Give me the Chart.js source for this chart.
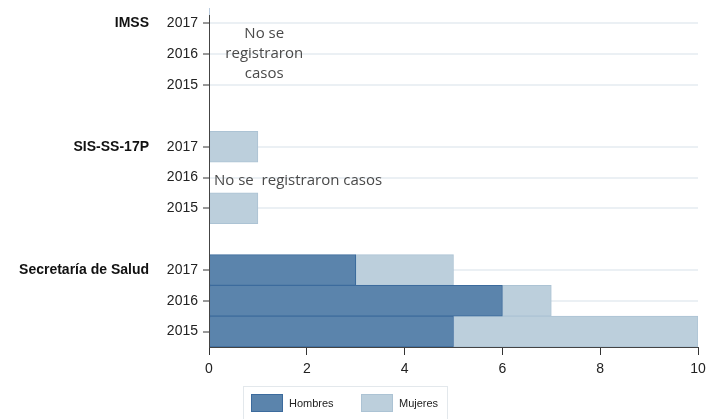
<!DOCTYPE html>
<html>
<head>
<meta charset="utf-8">
<script src="https://cdn.jsdelivr.net/npm/chart.js@4.4.1/dist/chart.umd.min.js"></script>
<style>
  html, body { margin: 0; padding: 0; background: #fff; }
</style>
</head>
<body>
<canvas id="chart" width="719" height="419"></canvas>
<script>
// --- data ---
const groups = ['IMSS', 'SIS-SS-17P', 'Secretaría de Salud'];
const groupRows = [0, 4, 8];   // row index of the 2017 line of each group
const rowLabels = ['2017', '2016', '2015', '', '2017', '2016', '2015', '', '2017', '2016', '2015'];
const hombres = [0, 0, 0, null, 0, 0, 0, null, 3, 6, 5];
const mujeres = [0, 0, 0, null, 1, 0, 1, null, 2, 1, 5];
const xTicks = [0, 2, 4, 6, 8, 10];

const HOMBRES_FILL = '#5b84ac', HOMBRES_LINE = '#3c6b9d';
const MUJERES_FILL = '#bccfdc', MUJERES_LINE = '#acc3d4';

// group names + "no cases" notes + legend box
const notesPlugin = {
    id: 'notes',
    afterDatasetsDraw(chart) {
        const ctx = chart.ctx, x = chart.scales.x, y = chart.scales.y;
        ctx.save();
        // y axis line (starts a little below the top of the plot, like the original)
        ctx.strokeStyle = '#444';
        ctx.lineWidth = 1;
        ctx.beginPath();
        ctx.moveTo(x.left + 0.5, chart.chartArea.top + 7);
        ctx.lineTo(x.left + 0.5, chart.chartArea.bottom);
        ctx.stroke();

        ctx.font = 'bold 14px "Liberation Sans", Arial, sans-serif';
        ctx.fillStyle = '#111';
        ctx.textAlign = 'right';
        ctx.textBaseline = 'middle';
        groups.forEach((g, i) => ctx.fillText(g, 149, y.getPixelForValue(groupRows[i])));

        ctx.font = '15px "Open Sans", sans-serif';
        ctx.fillStyle = '#4a4a4a';
        ctx.textAlign = 'center';
        const cx = x.getPixelForValue(1.13);
        const midImss = y.getPixelForValue(1);
        ['No se', 'registraron', 'casos'].forEach((t, i) => ctx.fillText(t, cx, midImss + (i - 1) * 20));

        ctx.textAlign = 'left';
        ctx.fillText('No se  registraron casos', x.getPixelForValue(0) + 5, y.getPixelForValue(5) + 3);
        ctx.restore();
    },
    afterDraw(chart) {
        const ctx = chart.ctx;
        ctx.save();
        ctx.strokeStyle = '#e3e8ec';
        ctx.lineWidth = 1;
        ctx.strokeRect(243.5, 386.5, 204, 40);
        const items = [
            {text: 'Hombres', fill: HOMBRES_FILL, line: HOMBRES_LINE, x: 251},
            {text: 'Mujeres', fill: MUJERES_FILL, line: MUJERES_LINE, x: 361}
        ];
        ctx.font = '11px "Liberation Sans", Arial, sans-serif';
        ctx.textBaseline = 'middle';
        ctx.textAlign = 'left';
        items.forEach(it => {
            ctx.fillStyle = it.fill;
            ctx.fillRect(it.x, 394, 32, 18);
            ctx.strokeStyle = it.line;
            ctx.strokeRect(it.x + 0.5, 394.5, 31, 17);
            ctx.fillStyle = '#222';
            ctx.fillText(it.text, it.x + 38, 403.5);
        });
        ctx.restore();
    }
};

const zeroless = c => (c.raw ? 1 : 0);
const hasLabel = c => c.tick && c.tick.label;

new Chart(document.getElementById('chart'), {
    type: 'bar',
    data: {
        labels: rowLabels,
        datasets: [
            {
                label: 'Hombres',
                data: hombres,
                backgroundColor: HOMBRES_FILL,
                borderColor: HOMBRES_LINE,
                borderWidth: zeroless,
                borderSkipped: false
            },
            {
                label: 'Mujeres',
                data: mujeres,
                backgroundColor: MUJERES_FILL,
                borderColor: MUJERES_LINE,
                borderWidth: zeroless,
                borderSkipped: false
            }
        ]
    },
    options: {
        indexAxis: 'y',
        responsive: false,
        animation: false,
        barPercentage: 1,
        categoryPercentage: 1,
        layout: { padding: { top: 8, right: 21, bottom: 42, left: 0 } },
        plugins: { legend: { display: false }, tooltip: { enabled: false } },
        scales: {
            x: {
                stacked: true,
                min: 0,
                max: 10,
                afterBuildTicks: s => { s.ticks = xTicks.map(v => ({ value: v })); },
                afterFit: s => { s.height = 30; },
                grid: { drawOnChartArea: false, tickLength: 8, tickColor: '#333' },
                border: { color: '#444', z: 1 },
                ticks: { color: '#222', padding: 6, font: { size: 14, family: '"Liberation Sans", Arial, sans-serif' } }
            },
            y: {
                stacked: true,
                afterFit: s => { s.width = 209; s.paddingTop = 0; s.paddingBottom = 0; },
                grid: {
                    offset: false,
                    lineWidth: 2,
                    tickLength: 6,
                    color: c => hasLabel(c) ? '#ebf0f4' : 'rgba(0,0,0,0)',
                    tickColor: c => hasLabel(c) ? '#333' : 'rgba(0,0,0,0)',
                    tickWidth: 1
                },
                border: { display: false },
                ticks: { color: '#222', padding: 5, autoSkip: false, font: { size: 14, family: '"Liberation Sans", Arial, sans-serif' } }
            }
        }
    },
    plugins: [notesPlugin]
});
</script>
</body>
</html>
